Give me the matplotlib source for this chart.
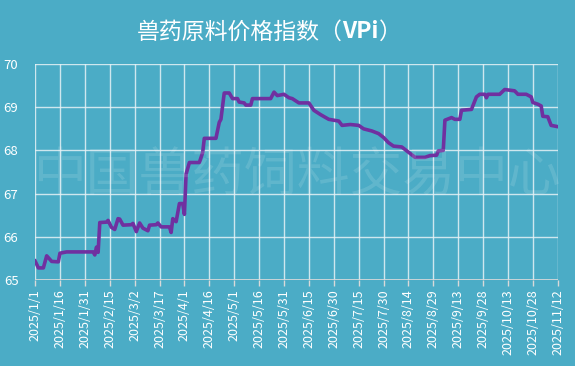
import pandas as pd
import matplotlib.pyplot as plt

plt.rcParams['font.family'] = ['Noto Sans CJK SC', 'DejaVu Sans']

# index values (turning points of the stepped line)
dates = ['2025-01-01', '2025-01-03', '2025-01-06', '2025-01-08', '2025-01-11', '2025-01-15',
         '2025-01-16', '2025-01-20', '2025-02-05', '2025-02-06', '2025-02-07', '2025-02-08',
         '2025-02-09', '2025-02-13', '2025-02-14', '2025-02-16', '2025-02-18', '2025-02-20',
         '2025-02-21', '2025-02-23', '2025-02-28', '2025-03-01', '2025-03-03', '2025-03-05',
         '2025-03-07', '2025-03-10', '2025-03-11', '2025-03-15', '2025-03-16', '2025-03-18',
         '2025-03-23', '2025-03-24', '2025-03-25', '2025-03-27', '2025-03-29', '2025-03-31',
         '2025-04-01', '2025-04-02', '2025-04-04', '2025-04-10', '2025-04-12', '2025-04-13',
         '2025-04-20', '2025-04-22', '2025-04-23', '2025-04-25', '2025-04-28', '2025-04-30',
         '2025-05-03', '2025-05-04', '2025-05-07', '2025-05-08', '2025-05-11', '2025-05-12',
         '2025-05-23', '2025-05-25', '2025-05-27', '2025-05-31', '2025-06-03', '2025-06-05',
         '2025-06-09', '2025-06-15', '2025-06-18', '2025-06-22', '2025-06-27', '2025-07-03',
         '2025-07-05', '2025-07-10', '2025-07-15', '2025-07-18', '2025-07-23', '2025-07-27',
         '2025-07-30', '2025-08-02', '2025-08-05', '2025-08-10', '2025-08-13', '2025-08-18',
         '2025-08-24', '2025-08-27', '2025-08-31', '2025-09-01', '2025-09-04', '2025-09-05',
         '2025-09-09', '2025-09-11', '2025-09-14', '2025-09-15', '2025-09-21', '2025-09-24',
         '2025-09-26', '2025-09-29', '2025-09-30', '2025-10-01', '2025-10-08', '2025-10-11',
         '2025-10-17', '2025-10-19', '2025-10-24', '2025-10-27', '2025-10-28', '2025-10-31',
         '2025-11-02', '2025-11-03', '2025-11-06', '2025-11-08', '2025-11-12']
vpi = [65.44, 65.28, 65.28, 65.56, 65.43, 65.42,
       65.62, 65.65, 65.65, 65.58, 65.76, 65.64,
       66.33, 66.34, 66.38, 66.22, 66.17, 66.42,
       66.41, 66.27, 66.28, 66.31, 66.12, 66.32,
       66.20, 66.14, 66.27, 66.28, 66.32, 66.23,
       66.23, 66.10, 66.42, 66.35, 66.77, 66.77,
       66.52, 67.45, 67.72, 67.72, 67.95, 68.28,
       68.28, 68.65, 68.72, 69.33, 69.33, 69.20,
       69.20, 69.12, 69.10, 69.05, 69.05, 69.20,
       69.20, 69.35, 69.27, 69.30, 69.22, 69.20,
       69.10, 69.10, 68.93, 68.83, 68.72, 68.68,
       68.58, 68.60, 68.58, 68.50, 68.45, 68.39,
       68.30, 68.18, 68.10, 68.08, 67.99, 67.84,
       67.84, 67.88, 67.89, 67.99, 68.00, 68.70,
       68.76, 68.72, 68.72, 68.93, 68.95, 69.24,
       69.30, 69.30, 69.22, 69.30, 69.30, 69.41,
       69.38, 69.30, 69.30, 69.24, 69.11, 69.07,
       69.03, 68.79, 68.78, 68.58, 68.55]

tick_dates = ['2025-01-01', '2025-01-16', '2025-01-31', '2025-02-15', '2025-03-02', '2025-03-17',
              '2025-04-01', '2025-04-16', '2025-05-01', '2025-05-16', '2025-05-31', '2025-06-15',
              '2025-06-30', '2025-07-15', '2025-07-30', '2025-08-14', '2025-08-29', '2025-09-13',
              '2025-09-28', '2025-10-13', '2025-10-28', '2025-11-12']
tick_labels = ['2025/1/1', '2025/1/16', '2025/1/31', '2025/2/15', '2025/3/2', '2025/3/17',
               '2025/4/1', '2025/4/16', '2025/5/1', '2025/5/16', '2025/5/31', '2025/6/15',
               '2025/6/30', '2025/7/15', '2025/7/30', '2025/8/14', '2025/8/29', '2025/9/13',
               '2025/9/28', '2025/10/13', '2025/10/28', '2025/11/12']

bg = '#4BACC6'
x = pd.to_datetime(dates)
ticks = pd.to_datetime(tick_dates)

fig = plt.figure(figsize=(5.75, 3.66), dpi=100, facecolor=bg)
ax = fig.add_axes([0.061, 0.235, 0.909, 0.59], facecolor=bg)

# watermark behind the line (kept just right of the y labels)
fig.text(0.517, 0.52, '中国兽药饲料交易中心', ha='center', va='center', fontsize=38,
         color='white', alpha=0.12, zorder=0)

ax.plot(x, vpi, color='#7030A0', lw=2.6, solid_joinstyle='round', zorder=3)

ax.set_xlim(ticks[0], ticks[-1])
ax.set_ylim(65, 70)
ax.set_yticks([65, 66, 67, 68, 69, 70])
ax.set_xticks(ticks)
ax.set_xticklabels(tick_labels, rotation=90)
ax.grid(True, color='#E6F2F6', lw=1.0, alpha=0.85)
ax.set_axisbelow(True)
for s in ax.spines.values():
    s.set_visible(False)
ax.axhline(65, color='#D9D9D9', lw=1.2, zorder=2)
ax.tick_params(axis='x', colors='#D9D9D9', length=4, width=1, labelcolor='white',
               labelsize=9, pad=3)
ax.tick_params(axis='y', length=0, labelcolor='white', labelsize=9.5, pad=12)

# title: Chinese part regular, "VPi" bold, pieces laid side by side
parts = [('兽药原料价格指数（', 'normal'), ('VPi', 'bold'), ('）', 'normal')]
r = fig.canvas.get_renderer()
widths = []
objs = []
for s, w in parts:
    t = fig.text(0, 0.913, s, fontsize=16.5, color='white', fontweight=w, va='center')
    objs.append(t)
    widths.append(t.get_window_extent(r).width)
left = 0.468 * fig.bbox.width - sum(widths) / 2
for t, wd in zip(objs, widths):
    t.set_x(left / fig.bbox.width)
    left += wd

fig.savefig('out.png', dpi=100, facecolor=bg)
